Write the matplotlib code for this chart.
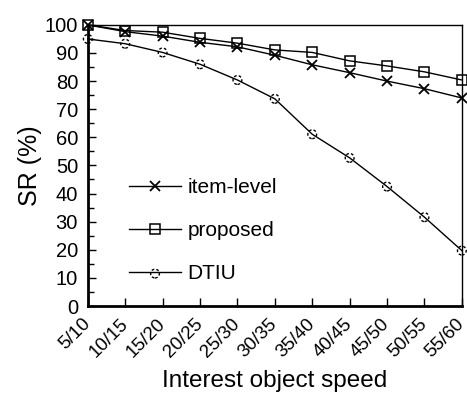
import matplotlib
matplotlib.use("Agg")
import matplotlib.pyplot as plt
from matplotlib.ticker import MultipleLocator
from matplotlib.legend_handler import HandlerTuple

plt.rcParams['font.family'] = ['Liberation Sans', 'DejaVu Sans']

categories = ["5/10", "10/15", "15/20", "20/25", "25/30", "30/35", "35/40", "40/45", "45/50", "50/55", "55/60"]
item_level = [100, 97.6, 96.0, 93.8, 92.2, 89.2, 85.8, 83.0, 80.0, 77.3, 74.0]
proposed = [100, 98.0, 97.4, 95.2, 93.5, 91.1, 90.2, 87.2, 85.4, 83.3, 80.4]
dtiu = [95.0, 93.3, 90.2, 86.0, 80.4, 73.7, 61.1, 52.7, 42.5, 31.6, 19.7]

fig = plt.figure(figsize=(4.67, 4.08), dpi=100)
ax = fig.add_axes([0.188, 0.25, 0.801, 0.689])
x = list(range(len(categories)))

h1, = ax.plot(x, item_level, color='black', lw=1.0, marker='x', ms=7, mew=1.3, clip_on=False, zorder=3)
h2, = ax.plot(x, proposed, color='black', lw=1.0, marker='s', ms=7, mfc='none', mew=1.1, clip_on=False, zorder=3)
h3, = ax.plot(x, dtiu, color='black', lw=1.0, clip_on=False, zorder=3)
sc = ax.scatter(x, dtiu, s=40, facecolors='none', edgecolors='black', linewidths=1.0,
                linestyles=(0, (2.0, 1.5)), clip_on=False, zorder=4)

ax.set_xlim(0, 10)
ax.set_ylim(0, 100)
ax.set_xticks(x)
ax.set_xticklabels(categories, rotation=45, ha='right', va='center', rotation_mode='anchor', fontsize=13.5)
ax.yaxis.set_major_locator(MultipleLocator(10))
ax.yaxis.set_minor_locator(MultipleLocator(5))
ax.tick_params(axis='y', which='major', direction='in', length=6, width=1, labelsize=14.5, pad=7)
ax.tick_params(axis='y', which='minor', direction='in', length=4, width=1)
ax.tick_params(axis='x', which='major', direction='in', length=6, width=1, pad=11)

for s in ['left', 'bottom']:
    ax.spines[s].set_linewidth(2)
for s in ['top', 'right']:
    ax.spines[s].set_linewidth(1)

ax.set_ylabel('SR (%)', fontsize=18, labelpad=2)
ax.set_xlabel('Interest object speed', fontsize=17.5, labelpad=7)

leg = ax.legend([h1, h2, (h3, sc)], ['item-level', 'proposed', 'DTIU'],
                handler_map={tuple: HandlerTuple(ndivide=1, pad=0)}, scatterpoints=1,
                loc='lower left', bbox_to_anchor=(0.06, 0.015), frameon=False, fontsize=15,
                handlelength=2.5, labelspacing=1.15, handletextpad=0.3)

fig.savefig('out.png', dpi=100)
